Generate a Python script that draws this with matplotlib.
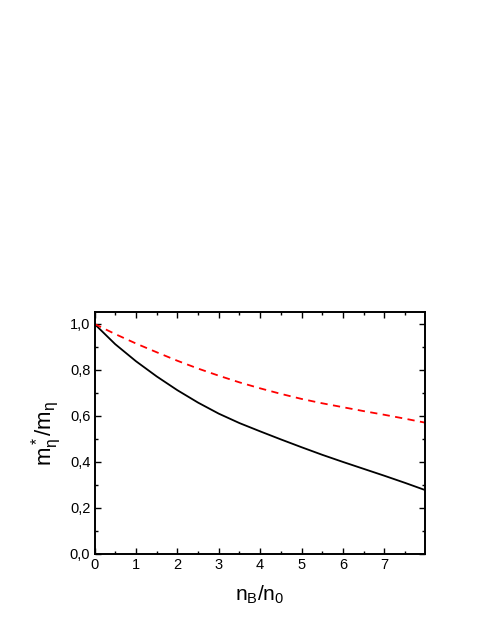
import matplotlib
matplotlib.use("Agg")
import matplotlib.pyplot as plt
from matplotlib.ticker import MultipleLocator, FuncFormatter

plt.rcParams["font.family"] = ["Liberation Sans", "DejaVu Sans"]
plt.rcParams["mathtext.fontset"] = "custom"
plt.rcParams["mathtext.rm"] = "Liberation Sans"
plt.rcParams["mathtext.it"] = "Liberation Sans"

# density ratio n_B/n_0
density = [0, 0.5, 1, 1.5, 2, 2.5, 3, 3.5, 4, 4.5, 5, 5.5, 6, 6.5, 7, 7.5, 7.98]
# effective mass ratio, solid black curve
mass_solid = [1.0, 0.912, 0.838, 0.772, 0.712, 0.658, 0.610, 0.569, 0.533,
              0.498, 0.464, 0.431, 0.400, 0.370, 0.340, 0.309, 0.278]
# effective mass ratio, dashed red curve
mass_dashed = [1.0, 0.956, 0.915, 0.877, 0.840, 0.806, 0.775, 0.746, 0.720,
               0.696, 0.674, 0.655, 0.638, 0.621, 0.605, 0.588, 0.571]

fig = plt.figure(figsize=(4.91, 6.35), dpi=100)
ax = fig.add_axes([0.1925, 0.1276, 0.6731, 0.3811])

ax.plot(density, mass_solid, color="black", lw=1.3)
ax.plot(density, mass_dashed, color="red", lw=1.3, ls=(0, (4, 3)))

ax.set_xlim(0, 7.98)
ax.set_ylim(0, 1.052)

ax.xaxis.set_major_locator(MultipleLocator(1))
ax.xaxis.set_minor_locator(MultipleLocator(0.5))
ax.yaxis.set_major_locator(MultipleLocator(0.2))
ax.yaxis.set_minor_locator(MultipleLocator(0.1))
ax.yaxis.set_major_formatter(FuncFormatter(lambda v, p: f"{v:.1f}".replace(".", ",")))

ax.tick_params(which="both", direction="in", top=True, right=True, width=1.0)
ax.tick_params(which="major", length=4, labelsize=10.5, pad=3)
ax.tick_params(which="minor", length=2.5)
for s in ax.spines.values():
    s.set_linewidth(1.4)

ax.set_xlabel(r"$\mathregular{n_B/n_0}$", fontsize=15, labelpad=8)
ax.set_ylabel(r"$\mathregular{m^*_\eta/m_\eta}$", fontsize=16, labelpad=4)

fig.savefig("out.png", dpi=100)
